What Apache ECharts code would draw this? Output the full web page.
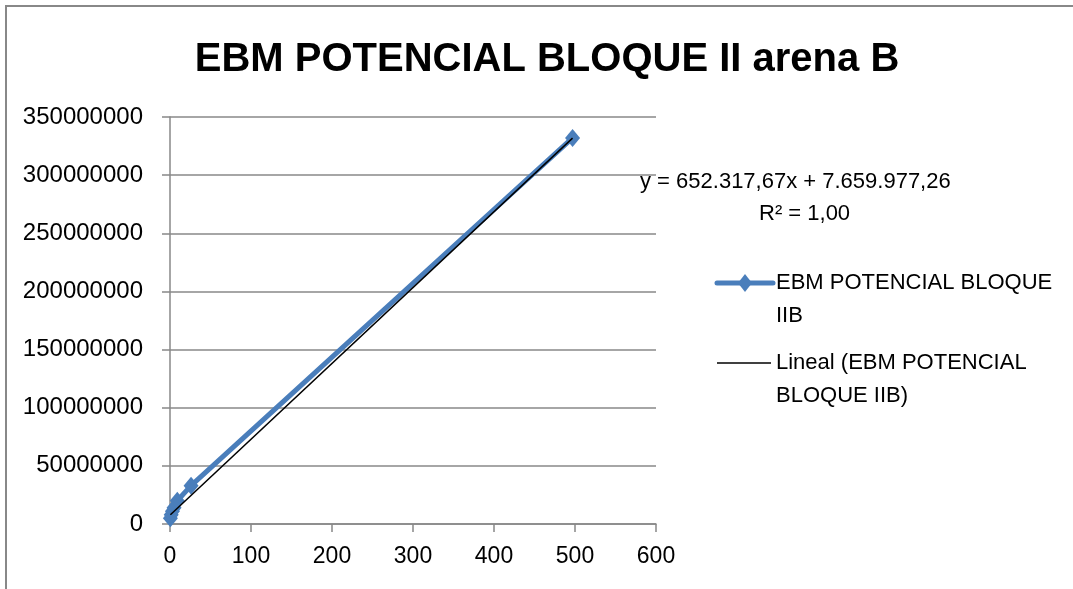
<!DOCTYPE html>
<html>
<head>
<meta charset="utf-8">
<script src="https://cdn.jsdelivr.net/npm/echarts@6/dist/echarts.min.js"></script>
<style>html,body{margin:0;padding:0;background:#fff}#c{width:1073px;height:589px}</style>
</head>
<body>
<div id="c"></div>
<script>
// Data
const xValues = [0.5, 1.5, 3, 5, 9, 26, 497];
const yValues = [5000000, 8000000, 11000000, 14000000, 20000000, 33000000, 332000000];
const seriesName = 'EBM POTENCIAL BLOQUE IIB';
const trendName = 'Lineal (EBM POTENCIAL BLOQUE IIB)';
// Trendline coefficients as printed on the chart
const trendSlope = 652317.67;
const trendIntercept = 7659977.26;
const xTicks = [0, 100, 200, 300, 400, 500, 600];
const yTicks = [0, 50000000, 100000000, 150000000, 200000000, 250000000, 300000000, 350000000];

const pts = xValues.map((x, i) => [x, yValues[i]]);
const xMin = Math.min(...xValues), xMax = Math.max(...xValues);
const trendPts = [[xMin, trendSlope * xMin + trendIntercept], [xMax, trendSlope * xMax + trendIntercept]];

const FONT = 'Liberation Sans';
const BLUE = '#4a7ebb';
const chart = echarts.init(document.getElementById('c'));
chart.setOption({
  animation: false,
  backgroundColor: '#fff',
  title: {
    text: 'EBM POTENCIAL BLOQUE II arena B',
    left: 542, top: 35, textAlign: 'center',
    textStyle: { fontFamily: FONT, fontWeight: 'bold', fontSize: 40, color: '#000' }
  },
  grid: { left: 170, right: 417, top: 117, bottom: 65 },
  xAxis: {
    type: 'value', min: xTicks[0], max: xTicks[xTicks.length - 1], interval: 100,
    axisLine: { show: true, lineStyle: { color: '#888', width: 1.5 } },
    axisTick: { show: true, length: 8, lineStyle: { color: '#888', width: 1.5 } },
    splitLine: { show: false },
    axisLabel: { margin: 21, fontFamily: FONT, fontSize: 23, color: '#000' }
  },
  yAxis: {
    type: 'value', min: yTicks[0], max: yTicks[yTicks.length - 1], interval: 50000000,
    axisLine: { show: true, lineStyle: { color: '#888', width: 1.5 } },
    axisTick: { show: true, length: 8, lineStyle: { color: '#888', width: 1.5 } },
    splitLine: { show: true, lineStyle: { color: '#888', width: 1.5 } },
    axisLabel: { margin: 27, fontFamily: FONT, fontSize: 24, color: '#000', formatter: v => String(v) }
  },
  legend: { show: false, data: [seriesName, trendName] },
  graphic: [
    { type: 'rect', shape: { x: 6, y: 6, width: 1100, height: 620 }, style: { fill: 'none', stroke: '#888', lineWidth: 2 }, silent: true },
    { type: 'text', left: 640, top: 171, style: { text: 'y = 652.317,67x + 7.659.977,26', font: '22px "Liberation Sans"', fill: '#000' } },
    { type: 'text', left: 759, top: 203, style: { text: 'R² = 1,00', font: '22px "Liberation Sans"', fill: '#000' } },
    // legend
    { type: 'line', shape: { x1: 717, y1: 283, x2: 773, y2: 283 }, style: { stroke: BLUE, lineWidth: 5, lineCap: 'round' } },
    { type: 'polygon', shape: { points: [[745, 274], [752, 283], [745, 292], [738, 283]] }, style: { fill: BLUE } },
    { type: 'text', left: 776, top: 266, style: { text: 'EBM POTENCIAL BLOQUE\nIIB', font: '22px "Liberation Sans"', lineHeight: 33, fill: '#000' } },
    { type: 'line', shape: { x1: 717, y1: 363, x2: 771, y2: 363 }, style: { stroke: '#000', lineWidth: 1.5 } },
    { type: 'text', left: 776, top: 346, style: { text: 'Lineal (EBM POTENCIAL\nBLOQUE IIB)', font: '22px "Liberation Sans"', lineHeight: 33, fill: '#000' } }
  ],
  series: [
    {
      name: seriesName, type: 'line', data: pts,
      symbol: 'diamond', symbolSize: [15, 18],
      lineStyle: { color: BLUE, width: 5 },
      itemStyle: { color: BLUE }, z: 2
    },
    {
      name: trendName, type: 'line', data: trendPts,
      symbol: 'none', lineStyle: { color: '#000', width: 1.5 },
      itemStyle: { color: '#000' }, z: 3
    }
  ]
});
</script>
</body>
</html>
